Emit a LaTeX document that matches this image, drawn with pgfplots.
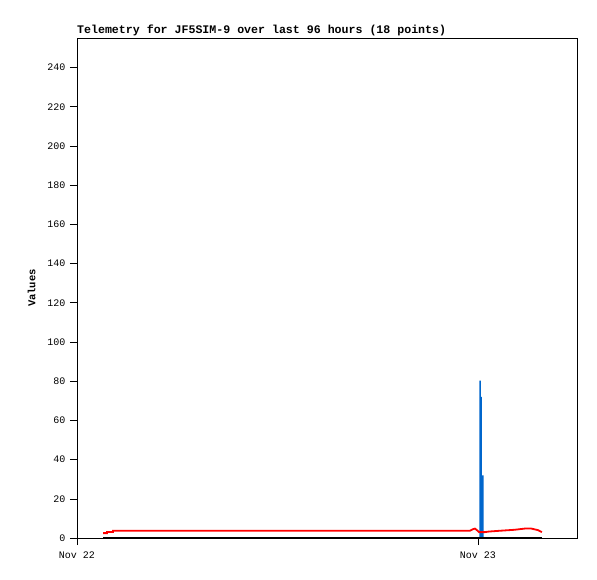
\documentclass[border=0pt]{standalone}
\usepackage{pgfplots}
\pgfplotsset{compat=1.18}
\usepackage{fontspec}
\setmainfont{Liberation Mono}
\definecolor{barblue}{RGB}{0,102,204}
\begin{document}
\begin{tikzpicture}
\begin{axis}[
  scale only axis,
  width=500pt, height=500pt,
  at={(0,0)}, anchor=south west,
  xmin=0, xmax=29.93,
  ymin=0, ymax=255.1,
  xtick={0,24}, xticklabels={Nov 22,Nov 23},
  ytick={0,20,...,240},
  tick align=outside,
  major tick length=7pt,
  xtick pos=bottom, ytick pos=left,
  tick style={black, line width=0.6pt},
  axis line style={black, line width=0.6pt},
  ticklabel style={font=\fontsize{10}{12}\selectfont},
  /pgf/number format/assume math mode=true,
  xticklabel style={yshift=-3pt},
  yticklabel style={xshift=-1pt},
  ylabel={\textbf{Values}},
  ylabel style={font=\fontsize{10.5}{12}\selectfont, at={(-38pt,0.5)}, anchor=south},
  clip=false,
]
\addplot[draw=none, fill=barblue] coordinates {
  (24.08,0) (24.08,80.3) (24.18,80.3) (24.18,72) (24.24,72) (24.24,32) (24.34,32) (24.34,0)
} \closedcycle;
\addplot[black, line width=2pt] coordinates {(1.56,0) (27.83,0)};
\addplot[red, line width=1.8pt] coordinates {
  (1.56,2.5) (1.80,2.5) (1.80,3.1) (2.15,3.1) (2.15,3.7) (23.52,3.7) (23.70,4.5) (23.82,4.8)
  (23.94,4.0) (24.06,3.0) (24.42,3.0) (24.66,3.3) (25.32,3.7) (26.2,4.2) (26.8,4.8)
  (27.2,4.8) (27.6,4.0) (27.83,3.0)
};
\node[anchor=base west, inner sep=0pt, font=\bfseries\fontsize{11.6}{12}\selectfont] at (rel axis cs:0,1) [yshift=4pt] {Telemetry for JF5SIM-9 over last 96 hours (18 points)};
\end{axis}
\pgfresetboundingbox
\path[use as bounding box] (-77pt,-41pt) rectangle (520pt,538pt);
\end{tikzpicture}
\end{document}
